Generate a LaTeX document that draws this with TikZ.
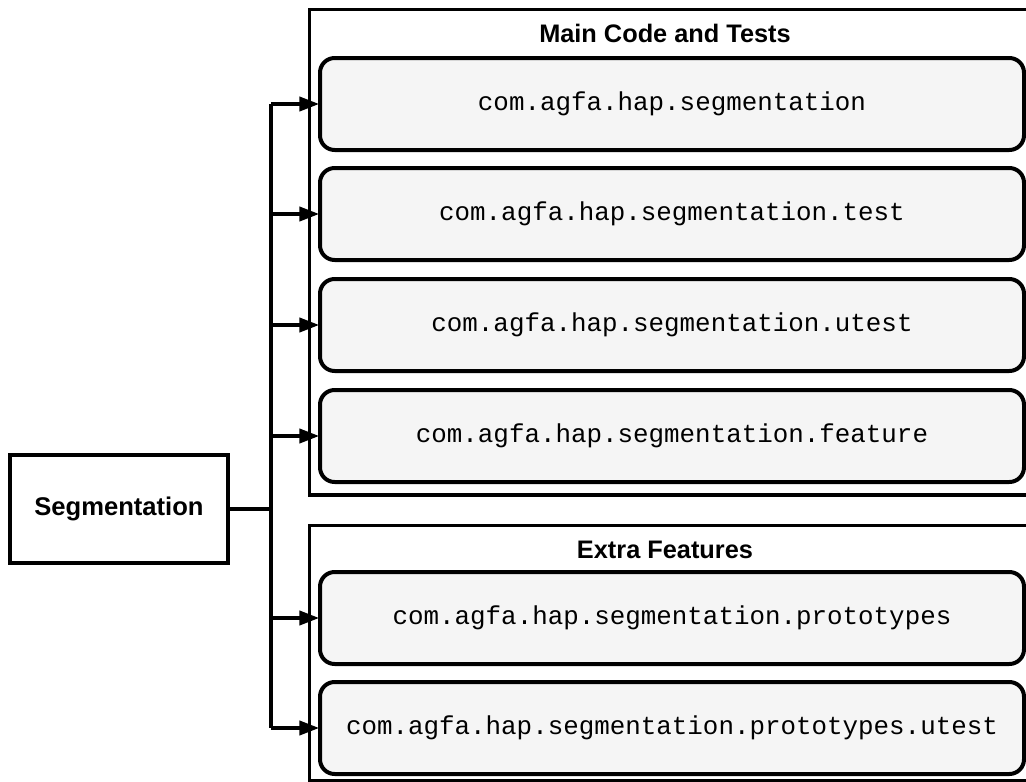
\documentclass[tikz,border=0pt]{standalone}
\usepackage{fontspec}
\setmainfont{Liberation Sans}
\newfontfamily\codefont{Liberation Mono}
\usetikzlibrary{arrows.meta,positioning}
\definecolor{boxfill}{HTML}{F5F5F5}
\tikzset{
  pkg/.style={draw=black, line width=3pt, rounded corners=11pt, fill=boxfill,
    minimum width=528pt, minimum height=69pt, inner sep=0pt,
    font=\codefont\fontsize{19.4}{22}\selectfont},
  group/.style={draw=black, line width=2.4pt, fill=white},
  grouptitle/.style={font=\bfseries\fontsize{19}{22}\selectfont, inner sep=0pt},
  rootbox/.style={draw=black, line width=3pt, fill=white, minimum width=163.5pt,
    minimum height=81pt, inner sep=0pt, font=\bfseries\fontsize{19.2}{22}\selectfont},
  conn/.style={line width=3pt, arrows={-Triangle[length=15pt,width=10.5pt]}, shorten >=-1pt},
  trunk/.style={line width=3pt}
}
\begin{document}
\begin{tikzpicture}[x=0.75pt,y=-0.75pt]
\useasboundingbox (0,0) rectangle (1026,782);
\clip (0,0) rectangle (1026,782);
% groups
\node[group, anchor=north west, minimum width=540pt, minimum height=364pt] (g1) at (308,8) {};
\node[group, anchor=north west, minimum width=540pt, minimum height=191pt] (g2) at (308,524) {};
\node[grouptitle] (t1) at (665,33) {Main Code and Tests};
\node[grouptitle] (t2) at (665,550) {Extra Features};
% packages
\node[pkg, anchor=north west] (p1) at (318,56) {com.agfa.hap.segmentation};
\node[pkg, anchor=north west] (p2) at (318,166) {com.agfa.hap.segmentation.test};
\node[pkg, anchor=north west] (p3) at (318,277) {com.agfa.hap.segmentation.utest};
\node[pkg, anchor=north west] (p4) at (318,388) {com.agfa.hap.segmentation.feature};
\node[pkg, anchor=north west] (p5) at (318,570) {com.agfa.hap.segmentation.prototypes};
\node[pkg, anchor=north west] (p6) at (318,680) {com.agfa.hap.segmentation.prototypes.utest};
% root
\node[rootbox, anchor=north west] (root) at (8,453) {Segmentation};
\coordinate (j) at (271,0);
\draw[trunk] (root.east) -- (root.east -| j);
\draw[trunk] (p1.west -| j) -- (p6.west -| j);
\foreach \p in {p1,p2,p3,p4,p5,p6}{
  \draw[conn] (\p.west -| j) -- (\p.west);
}
\end{tikzpicture}
\end{document}
